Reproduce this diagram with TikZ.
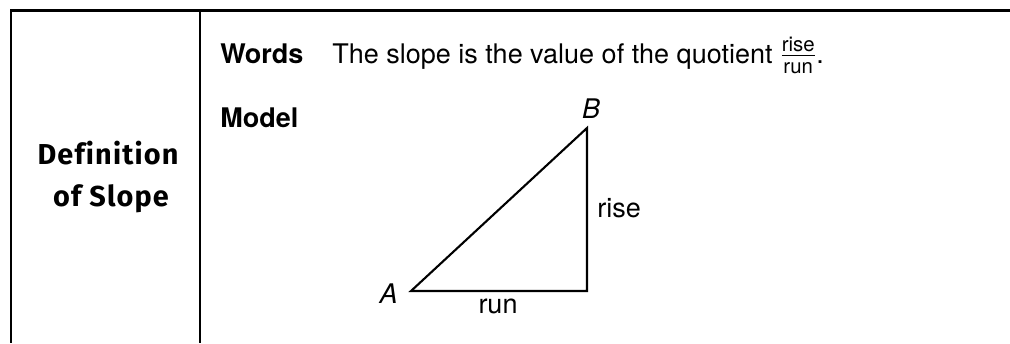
\documentclass[tikz,border=0pt]{standalone}
\usepackage{fontspec}
\setmainfont{TeX Gyre Heros}
\newfontfamily\headfont[LetterSpace=4,Ligatures=NoCommon]{Fira Sans}
\usetikzlibrary{positioning}
\newcommand{\bodysize}{\fontsize{19.2}{23}\selectfont}
\newcommand{\fracpart}[1]{\mbox{\fontsize{14.5}{15}\selectfont #1}}

\begin{document}
\begin{tikzpicture}[
    x=0.025cm, y=-0.025cm,
    font=\bodysize,
    frame/.style={line width=1.9pt},
    tri/.style={line width=1.5pt, line join=miter},
    head/.style={font=\headfont\bfseries\fontsize{20.5}{24}\selectfont,
      anchor=base, inner sep=0pt},
    tag/.style={font=\bodysize\bfseries, anchor=base west, inner sep=0pt},
    plain/.style={anchor=base west, inner sep=0pt},
    vlabel/.style={font=\bodysize\itshape, inner sep=0pt}
  ]
  \useasboundingbox (0,0) rectangle (1010,343);

  % table frame
  \draw[frame] (1010,10.5) -- (11,10.5) -- (11,343);
  \draw[frame] (200,10.5) -- (200,343);

  \node[head] (defa) at (108,164) {Definition};
  \node[head] (defb) at (111,206) {of Slope};

  \node[tag] (words) at (220,63) {Words};
  \node[plain] (wordstext) at (332,63)
    {The slope is the value of the quotient $\frac{\fracpart{rise}}{\fracpart{run}}$.};
  \node[tag] (model) at (220,127) {Model};

  % triangle
  \coordinate (A) at (411,291);
  \coordinate (C) at (587,291);
  \coordinate (B) at (587,128);
  \draw[tri] (A) -- (C) -- (B) -- cycle;

  \node[vlabel, anchor=base east] (alab) at (398,303) {A};
  \node[vlabel, anchor=base] (blab) at (591,118) {B};
  \node[plain] (rise) at (597,217) {rise};
  \node[plain, anchor=base] (run) at (498,313) {run};
\end{tikzpicture}
\end{document}
